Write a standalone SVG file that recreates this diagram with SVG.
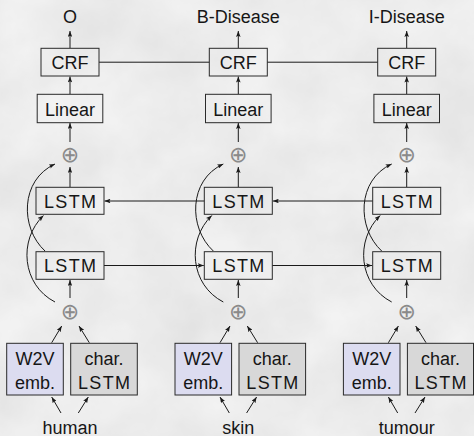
<svg xmlns="http://www.w3.org/2000/svg" width="474" height="436" viewBox="0 0 474 436">
  <style>
    .box { fill: none; stroke: #2a2a2a; stroke-width: 1; }
    .w2v { fill: #dcdcf0; stroke: #2a2a2a; stroke-width: 1; }
    .chr { fill: #d8d8d8; stroke: #2a2a2a; stroke-width: 1; }
    .lbl { font-family: "Liberation Sans", Arial, sans-serif; font-size: 18px; fill: #161616; text-anchor: middle; }
    .plus { font-family: "DejaVu Sans", sans-serif; font-size: 22px; fill: #8a8a8a; text-anchor: middle; }
    .edge { fill: none; stroke: #1a1a1a; stroke-width: 1; }
    .arr { marker-end: url(#head); }
  </style>
  <defs>
    <marker id="head" viewBox="0 0 6 4.6" refX="6" refY="2.3" markerWidth="6" markerHeight="4.6" markerUnits="userSpaceOnUse" orient="auto">
      <path d="M0,0 L6,2.3 L0,4.6 L1.2,2.3 z" fill="#1a1a1a"/>
    </marker>
    <filter id="grain" x="0" y="0" width="100%" height="100%" color-interpolation-filters="sRGB">
      <feTurbulence type="fractalNoise" baseFrequency="0.014" numOctaves="5" seed="11"/>
      <feColorMatrix type="matrix" values="0.08 0 0 0 0.885  0.08 0 0 0 0.885  0.08 0 0 0 0.885  0 0 0 0 1"/>
    </filter>
  </defs>

  <!-- textured backdrop -->
  <rect x="0" y="0" width="474" height="436" fill="#ececec"/>
  <rect x="0" y="0" width="474" height="436" filter="url(#grain)"/>

  <!-- connectors -->
  <g id="connectors">
    <!-- CRF chain -->
    <line class="edge" x1="99" y1="62.2" x2="209.3" y2="62.2"/>
    <line class="edge" x1="267.3" y1="62.2" x2="377.7" y2="62.2"/>
    <!-- backward LSTM row (right to left) -->
    <line class="edge arr" x1="204.3" y1="201" x2="104.5" y2="201"/>
    <line class="edge arr" x1="372.7" y1="201" x2="272.8" y2="201"/>
    <!-- forward LSTM row (left to right) -->
    <line class="edge arr" x1="104" y1="265.5" x2="203.8" y2="265.5"/>
    <line class="edge arr" x1="272.3" y1="265.5" x2="372.2" y2="265.5"/>

    <!-- column 1 -->
    <line class="edge arr" x1="70" y1="48" x2="70" y2="31"/>
    <line class="edge arr" x1="70" y1="94" x2="70" y2="76.5"/>
    <line class="edge arr" x1="70" y1="142" x2="70" y2="123"/>
    <line class="edge arr" x1="70" y1="187" x2="70" y2="167"/>
    <line class="edge arr" x1="70" y1="298" x2="70" y2="280"/>
    <path class="edge arr" d="M55,302 C22,285 18,240 43.5,215.5"/>
    <path class="edge arr" d="M45,251 C20,228 20,180 55,164"/>
    <line class="edge arr" x1="51.7" y1="342.7" x2="61.7" y2="326"/>
    <line class="edge arr" x1="89.3" y1="342.7" x2="79" y2="326"/>
    <line class="edge arr" x1="61" y1="413" x2="51.7" y2="397"/>
    <line class="edge arr" x1="78.3" y1="413" x2="88.3" y2="397"/>

    <!-- column 2 -->
    <g transform="translate(168.3,0)">
      <line class="edge arr" x1="70" y1="48" x2="70" y2="31"/>
      <line class="edge arr" x1="70" y1="94" x2="70" y2="76.5"/>
      <line class="edge arr" x1="70" y1="142" x2="70" y2="123"/>
      <line class="edge arr" x1="70" y1="187" x2="70" y2="167"/>
      <line class="edge arr" x1="70" y1="298" x2="70" y2="280"/>
      <path class="edge arr" d="M55,302 C22,285 18,240 43.5,215.5"/>
      <path class="edge arr" d="M45,251 C20,228 20,180 55,164"/>
      <line class="edge arr" x1="51.7" y1="342.7" x2="61.7" y2="326"/>
      <line class="edge arr" x1="89.3" y1="342.7" x2="79" y2="326"/>
      <line class="edge arr" x1="61" y1="413" x2="51.7" y2="397"/>
      <line class="edge arr" x1="78.3" y1="413" x2="88.3" y2="397"/>
    </g>

    <!-- column 3 -->
    <g transform="translate(336.7,0)">
      <line class="edge arr" x1="70" y1="48" x2="70" y2="31"/>
      <line class="edge arr" x1="70" y1="94" x2="70" y2="76.5"/>
      <line class="edge arr" x1="70" y1="142" x2="70" y2="123"/>
      <line class="edge arr" x1="70" y1="187" x2="70" y2="167"/>
      <line class="edge arr" x1="70" y1="298" x2="70" y2="280"/>
      <path class="edge arr" d="M55,302 C22,285 18,240 43.5,215.5"/>
      <path class="edge arr" d="M45,251 C20,228 20,180 55,164"/>
      <line class="edge arr" x1="51.7" y1="342.7" x2="61.7" y2="326"/>
      <line class="edge arr" x1="89.3" y1="342.7" x2="79" y2="326"/>
      <line class="edge arr" x1="61" y1="413" x2="51.7" y2="397"/>
      <line class="edge arr" x1="78.3" y1="413" x2="88.3" y2="397"/>
    </g>
  </g>

  <!-- column 1 nodes -->
  <g id="tag-1"><text class="lbl" x="70" y="23">O</text></g>
  <g id="crf-1"><rect class="box" x="41" y="48.3" width="58" height="27.7"/><text class="lbl" x="70" y="68.5">CRF</text></g>
  <g id="linear-1"><rect class="box" x="37.2" y="94.3" width="65.6" height="28.4"/><text class="lbl" x="70" y="115.5">Linear</text></g>
  <g id="sum-top-1"><text class="plus" x="70" y="162.3">⊕</text></g>
  <g id="lstm-bwd-1"><rect class="box" x="36" y="187.3" width="68" height="27"/><text class="lbl" x="70" y="207.5" textLength="52" lengthAdjust="spacing">LSTM</text></g>
  <g id="lstm-fwd-1"><rect class="box" x="36" y="251.7" width="68" height="27.6"/><text class="lbl" x="70" y="272" textLength="52" lengthAdjust="spacing">LSTM</text></g>
  <g id="sum-bot-1"><text class="plus" x="70" y="318.5">⊕</text></g>
  <g id="w2v-1"><rect class="w2v" x="6.7" y="343.3" width="56.6" height="51.7"/><text class="lbl" x="35" y="364.5">W2V</text><text class="lbl" x="35" y="389">emb.</text></g>
  <g id="char-1"><rect class="chr" x="70.7" y="343.3" width="66.6" height="51.7"/><text class="lbl" x="104" y="364.5">char.</text><text class="lbl" x="104" y="389" textLength="52" lengthAdjust="spacing">LSTM</text></g>
  <g id="word-1"><text class="lbl" x="70" y="433.5">human</text></g>

  <!-- column 2 nodes -->
  <g id="tag-2"><text class="lbl" x="238.3" y="23">B-Disease</text></g>
  <g id="crf-2"><rect class="box" x="209.3" y="48.3" width="58" height="27.7"/><text class="lbl" x="238.3" y="68.5">CRF</text></g>
  <g id="linear-2"><rect class="box" x="205.5" y="94.3" width="65.6" height="28.4"/><text class="lbl" x="238.3" y="115.5">Linear</text></g>
  <g id="sum-top-2"><text class="plus" x="238.3" y="162.3">⊕</text></g>
  <g id="lstm-bwd-2"><rect class="box" x="204.3" y="187.3" width="68" height="27"/><text class="lbl" x="238.3" y="207.5" textLength="52" lengthAdjust="spacing">LSTM</text></g>
  <g id="lstm-fwd-2"><rect class="box" x="204.3" y="251.7" width="68" height="27.6"/><text class="lbl" x="238.3" y="272" textLength="52" lengthAdjust="spacing">LSTM</text></g>
  <g id="sum-bot-2"><text class="plus" x="238.3" y="318.5">⊕</text></g>
  <g id="w2v-2"><rect class="w2v" x="175" y="343.3" width="56.6" height="51.7"/><text class="lbl" x="203.3" y="364.5">W2V</text><text class="lbl" x="203.3" y="389">emb.</text></g>
  <g id="char-2"><rect class="chr" x="239" y="343.3" width="66.6" height="51.7"/><text class="lbl" x="272.3" y="364.5">char.</text><text class="lbl" x="272.3" y="389" textLength="52" lengthAdjust="spacing">LSTM</text></g>
  <g id="word-2"><text class="lbl" x="238.3" y="433.5">skin</text></g>

  <!-- column 3 nodes -->
  <g id="tag-3"><text class="lbl" x="406.7" y="23">I-Disease</text></g>
  <g id="crf-3"><rect class="box" x="377.7" y="48.3" width="58" height="27.7"/><text class="lbl" x="406.7" y="68.5">CRF</text></g>
  <g id="linear-3"><rect class="box" x="373.9" y="94.3" width="65.6" height="28.4"/><text class="lbl" x="406.7" y="115.5">Linear</text></g>
  <g id="sum-top-3"><text class="plus" x="406.7" y="162.3">⊕</text></g>
  <g id="lstm-bwd-3"><rect class="box" x="372.7" y="187.3" width="68" height="27"/><text class="lbl" x="406.7" y="207.5" textLength="52" lengthAdjust="spacing">LSTM</text></g>
  <g id="lstm-fwd-3"><rect class="box" x="372.7" y="251.7" width="68" height="27.6"/><text class="lbl" x="406.7" y="272" textLength="52" lengthAdjust="spacing">LSTM</text></g>
  <g id="sum-bot-3"><text class="plus" x="406.7" y="318.5">⊕</text></g>
  <g id="w2v-3"><rect class="w2v" x="343.4" y="343.3" width="56.6" height="51.7"/><text class="lbl" x="371.7" y="364.5">W2V</text><text class="lbl" x="371.7" y="389">emb.</text></g>
  <g id="char-3"><rect class="chr" x="407.4" y="343.3" width="66.1" height="51.7"/><text class="lbl" x="440.5" y="364.5">char.</text><text class="lbl" x="440.5" y="389" textLength="52" lengthAdjust="spacing">LSTM</text></g>
  <g id="word-3"><text class="lbl" x="406.7" y="433.5">tumour</text></g>
</svg>
